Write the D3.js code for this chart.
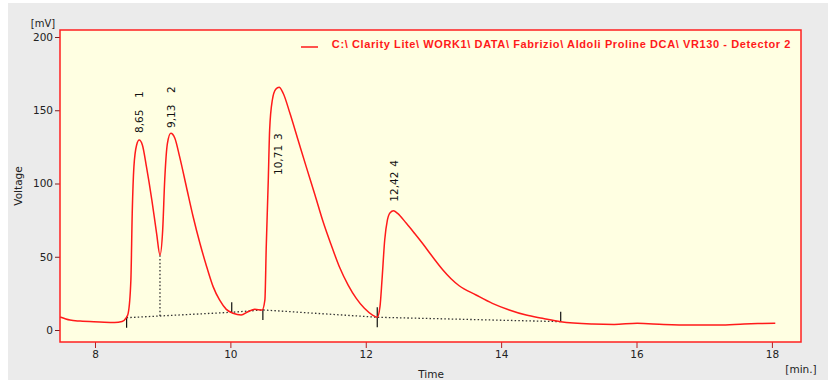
<!DOCTYPE html>
<html><head><meta charset="utf-8">
<script src="https://cdn.jsdelivr.net/npm/d3@7"></script>
<style>
html,body{margin:0;padding:0;background:#fff;}
svg{display:block;}
</style></head>
<body>
<script>
// ---- data ----
const times = [7.484,7.63,7.78,8.07,8.29,8.40,8.46,8.49,8.53,8.55,8.575,8.615,8.653,8.70,8.76,8.84,8.91,8.96,9.0,9.03,9.07,9.12,9.18,9.25,9.35,9.45,9.55,9.65,9.745,9.84,9.94,10.04,10.16,10.26,10.36,10.47,10.51,10.53,10.56,10.58,10.62,10.67,10.72,10.78,10.88,11.0,11.12,11.25,11.37,11.49,11.61,11.74,11.86,11.98,12.10,12.17,12.21,12.24,12.28,12.32,12.36,12.41,12.47,12.60,12.72,12.84,12.97,13.14,13.26,13.38,13.63,13.87,14.12,14.37,14.61,14.88,15.35,15.67,16.01,16.4,16.80,17.22,17.59,17.81,18.05];
const voltage = [8.9,6.8,6.1,5.5,5.1,5.8,8.2,11.4,34,79.6,111.5,126.3,129.7,126.3,111.5,88.7,66,51.2,68.3,102.4,127.4,134.3,130.9,118.3,97.8,77.3,59.2,43.2,29.6,20.5,14.1,11.4,10.2,12.5,14.1,13.7,20.5,56.9,102.4,136.5,157,164.3,165.7,161.6,147.9,129.7,111.5,92.2,73.9,58,43.2,30.7,21.6,14.8,10.2,8.7,15.9,34.1,61.4,75.1,80.1,81.4,79.6,72.8,66,59.0,51.0,41.0,35.0,30.2,23.9,18.2,13.7,10.2,8.0,5.7,4.1,3.8,4.6,3.8,3.4,3.4,4.1,4.4,4.6];

const peakTimes = [8.65, 9.13, 10.71, 12.42];
const peakNumbers = [1, 2, 3, 4];
const peakLabelV = [134.5, 137.9, 105.8, 87.6];

const baseTimes = [8.467, 10.02, 10.48, 12.17, 14.88];
const baseValues = [8.4, 12.1, 13.7, 8.7, 5.7];
const baseKinds = ["start", "end", "start", "both", "end"];
const dropTime = 8.96, dropTop = 51.2, dropBase = 9.6;

const xTicks = [8, 10, 12, 14, 16, 18];
const yTicks = [0, 50, 100, 150, 200];
const legendText = "C:\\ Clarity Lite\\ WORK1\\ DATA\\ Fabrizio\\ Aldoli Proline DCA\\ VR130 - Detector 2";

// ---- drawing ----
const W = 832, H = 380;
const L = 60, T = 30, R = 801, B = 342;
const svg = d3.select("body").append("svg").attr("width", W).attr("height", H);

svg.append("rect").attr("x", 8).attr("y", 3).attr("width", 820).attr("height", 377).attr("fill", "#ebebeb");
svg.append("rect").attr("x", L).attr("y", T).attr("width", R - L).attr("height", B - T)
  .attr("fill", "#ffffe2");

const x = d3.scaleLinear().domain([7.483, 18.43]).range([L, R]);
const y = d3.scaleLinear().domain([0, 200]).range([330, 37]);

const font = "'DejaVu Sans', sans-serif";

// axes
const yAxis = d3.axisLeft(y).tickValues(yTicks).tickSize(5).tickPadding(2);
const gy = svg.append("g").attr("transform", `translate(${L},0)`).call(yAxis);
gy.select(".domain").remove();
gy.selectAll("line").attr("stroke", "#7a2020");
gy.selectAll("text").attr("font-family", font).attr("font-size", 10.5).attr("fill", "#222");

const xAxis = d3.axisBottom(x).tickValues(xTicks).tickSize(6).tickPadding(3);
const gx = svg.append("g").attr("transform", `translate(0,${B})`).call(xAxis);
gx.select(".domain").remove();
gx.selectAll("line").attr("stroke", "#b02020");
gx.selectAll("text").attr("font-family", font).attr("font-size", 10.5).attr("fill", "#222");

// baseline (dotted)
const base = baseTimes.map((t, i) => [t, baseValues[i]]);
svg.append("path").attr("d", d3.line().x(d => x(d[0])).y(d => y(d[1]))(base))
  .attr("fill", "none").attr("stroke", "#333").attr("stroke-width", 1.3).attr("stroke-dasharray", "1.5,2.2");
svg.append("line").attr("x1", x(dropTime)).attr("x2", x(dropTime))
  .attr("y1", y(dropBase)).attr("y2", y(dropTop))
  .attr("stroke", "#333").attr("stroke-width", 1.3).attr("stroke-dasharray", "1.5,2.2");

// peak boundary ticks
baseTimes.forEach((t, i) => {
  const k = baseKinds[i];
  const py = y(baseValues[i]);
  const up = (k === "end" || k === "both") ? 10 : 1;
  const dn = (k === "start" || k === "both") ? 10 : 0;
  svg.append("line").attr("x1", x(t)).attr("x2", x(t))
    .attr("y1", py - up).attr("y2", py + dn)
    .attr("stroke", "#111").attr("stroke-width", 1.2);
});

// signal
const pts = times.map((t, i) => [t, voltage[i]]);
svg.append("path")
  .attr("d", d3.line().x(d => x(d[0])).y(d => y(d[1])).curve(d3.curveMonotoneX)(pts))
  .attr("fill", "none").attr("stroke", "#ff1a1a").attr("stroke-width", 1.5)
  .attr("stroke-linejoin", "round");

// peak labels
peakTimes.forEach((t, i) => {
  const px = x(t), py = y(peakLabelV[i]);
  svg.append("text").attr("transform", `translate(${px},${py}) rotate(-90)`)
    .attr("dy", "0.36em").attr("font-family", font).attr("font-size", 10.5).attr("fill", "#111")
    .text(String(t.toFixed(2)).replace(".", ","));
  svg.append("text").attr("transform", `translate(${px},${py - 35}) rotate(-90)`)
    .attr("dy", "0.36em").attr("font-family", font).attr("font-size", 10.5).attr("fill", "#111")
    .text(peakNumbers[i]);
});

// plot border
svg.append("rect").attr("x", L).attr("y", T).attr("width", R - L).attr("height", B - T)
  .attr("fill", "none").attr("stroke", "#ff2020").attr("stroke-width", 1.5);

// legend
svg.append("line").attr("x1", 301).attr("x2", 318).attr("y1", 47).attr("y2", 47)
  .attr("stroke", "#ff1a1a").attr("stroke-width", 1.5);
svg.append("text").attr("x", 791).attr("y", 44).attr("dy", "0.35em").attr("text-anchor", "end")
  .attr("font-family", "'Liberation Sans', Arial, sans-serif").attr("font-weight", "bold")
  .attr("font-size", 11).attr("letter-spacing", 0.6).attr("fill", "#ff1a1a").text(legendText);

// axis titles / units
svg.append("text").attr("x", 43).attr("y", 23).attr("dy", "0.35em").attr("text-anchor", "middle")
  .attr("font-family", font).attr("font-size", 10).attr("fill", "#222").text("[mV]");
svg.append("text").attr("transform", "translate(18,186) rotate(-90)").attr("dy", "0.35em")
  .attr("text-anchor", "middle").attr("font-family", font).attr("font-size", 10.5).attr("fill", "#222").text("Voltage");
svg.append("text").attr("x", 431).attr("y", 374).attr("dy", "0.35em").attr("text-anchor", "middle")
  .attr("font-family", font).attr("font-size", 10.5).attr("fill", "#222").text("Time");
svg.append("text").attr("x", 801).attr("y", 369).attr("dy", "0.35em").attr("text-anchor", "middle")
  .attr("font-family", font).attr("font-size", 10.5).attr("fill", "#222").text("[min.]");
</script>
</body></html>
